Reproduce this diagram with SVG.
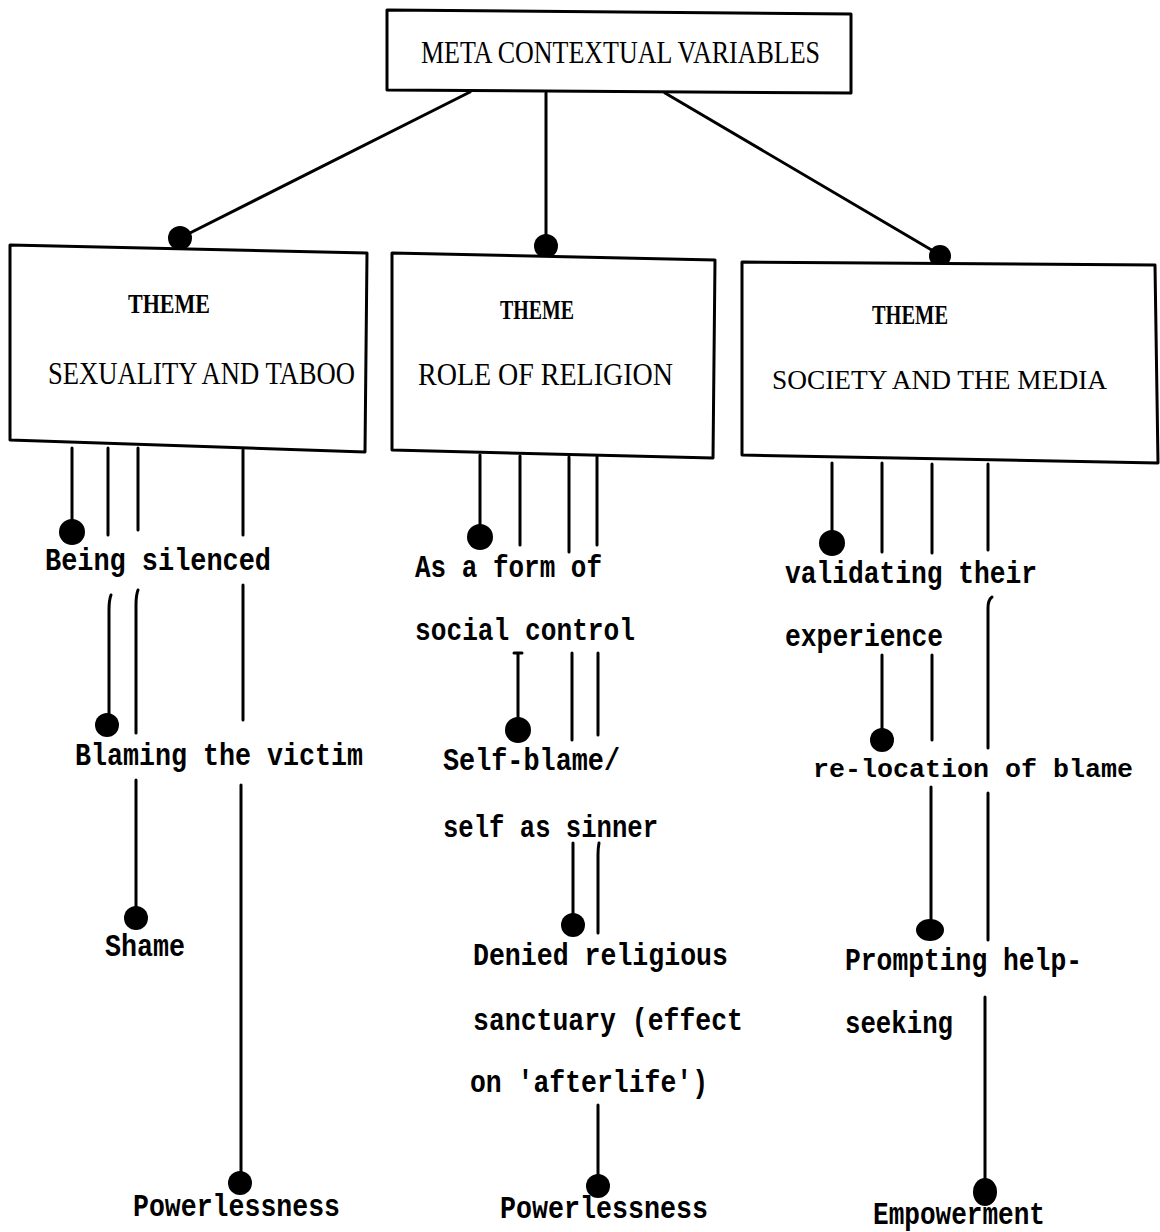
<svg xmlns="http://www.w3.org/2000/svg" width="1160" height="1232" viewBox="0 0 1160 1232">
<defs>
<style>
.box{fill:#fff;stroke:#000;stroke-width:3;stroke-linejoin:round}
.ln{fill:none;stroke:#000;stroke-width:3;stroke-linecap:round}
.dot{fill:#000}
.title{font-family:"Liberation Serif","DejaVu Serif",serif;font-size:32px;fill:#000}
.theme{font-family:"Liberation Serif","DejaVu Serif",serif;font-weight:bold;font-size:27px;fill:#000}
.lbl{font-family:"Liberation Mono","DejaVu Sans Mono",monospace;font-weight:bold;font-size:31px;fill:#000}
</style>
</defs>
<rect width="1160" height="1232" fill="#fff"/>

<g id="connectors">
<path class="ln" d="M470,92 L182,237"/>
<path class="ln" d="M546,93 V240"/>
<path class="ln" d="M665,93 L935,252"/>
<circle class="dot" cx="180" cy="238" r="12"/>
<circle class="dot" cx="546" cy="246" r="12"/>
<circle class="dot" cx="940" cy="256" r="11"/>

<path class="ln" d="M72,448 V522"/>
<circle class="dot" cx="72" cy="532" r="13"/>
<path class="ln" d="M108,448 V535"/>
<path class="ln" d="M138,448 V530"/>
<path class="ln" d="M243,450 V535"/>
<path class="ln" d="M111,595 Q109,600 109,610 V715"/>
<circle class="dot" cx="107" cy="725" r="12"/>
<path class="ln" d="M138,590 Q136,595 136,605 V733"/>
<path class="ln" d="M243,585 V720"/>
<path class="ln" d="M136,780 V910"/>
<circle class="dot" cx="136" cy="918" r="12"/>
<path class="ln" d="M241,785 V1175"/>
<circle class="dot" cx="240" cy="1183" r="12"/>

<path class="ln" d="M480,455 V530"/>
<circle class="dot" cx="480" cy="537" r="13"/>
<path class="ln" d="M520,456 V545"/>
<path class="ln" d="M569,457 V552"/>
<path class="ln" d="M597,457 V545"/>
<path class="ln" d="M514,653 H522 M518,653 V722"/>
<circle class="dot" cx="518" cy="730" r="13"/>
<path class="ln" d="M572,653 V740"/>
<path class="ln" d="M598,653 V735"/>
<path class="ln" d="M573,843 V917"/>
<circle class="dot" cx="573" cy="925" r="12"/>
<path class="ln" d="M599,843 Q598,848 598,855 V933"/>
<path class="ln" d="M598,1105 V1178"/>
<circle class="dot" cx="598" cy="1186" r="12"/>

<path class="ln" d="M832,463 V535"/>
<circle class="dot" cx="832" cy="543" r="13"/>
<path class="ln" d="M882,463 V552"/>
<path class="ln" d="M932,464 V553"/>
<path class="ln" d="M988,464 V550"/>
<path class="ln" d="M992,597 Q988,600 988,608 V748"/>
<path class="ln" d="M882,655 V732"/>
<circle class="dot" cx="882" cy="740" r="12"/>
<path class="ln" d="M932,655 V740"/>
<path class="ln" d="M931,787 V922"/>
<ellipse class="dot" cx="930" cy="930" rx="14" ry="11"/>
<path class="ln" d="M988,793 V940"/>
<path class="ln" d="M985,997 V1182"/>
<ellipse class="dot" cx="985" cy="1192" rx="12" ry="14"/>
</g>

<g id="node-meta">
<polygon class="box" points="387,10 851,14 851,93 387,90"/>
<text class="title" x="421" y="63" textLength="399" lengthAdjust="spacingAndGlyphs">META CONTEXTUAL VARIABLES</text>
</g>

<g id="node-theme-sexuality">
<polygon class="box" points="10,245 367,253 365,452 10,440"/>
<text class="theme" x="128" y="313" textLength="82" lengthAdjust="spacingAndGlyphs">THEME</text>
<text class="title" x="48" y="384" textLength="307" lengthAdjust="spacingAndGlyphs">SEXUALITY AND TABOO</text>
</g>

<g id="node-theme-religion">
<polygon class="box" points="392,253 715,260 713,458 392,450"/>
<text class="theme" x="500" y="319" textLength="74" lengthAdjust="spacingAndGlyphs">THEME</text>
<text class="title" x="418" y="385" textLength="255" lengthAdjust="spacingAndGlyphs">ROLE OF RELIGION</text>
</g>

<g id="node-theme-society">
<polygon class="box" points="742,262 1155,265 1158,463 742,455"/>
<text class="theme" x="872" y="324" textLength="76" lengthAdjust="spacingAndGlyphs">THEME</text>
<text class="title" x="772" y="389" style="font-size:28px" textLength="335" lengthAdjust="spacingAndGlyphs">SOCIETY AND THE MEDIA</text>
</g>

<g id="node-being-silenced"><text class="lbl" x="45" y="570" textLength="226" lengthAdjust="spacingAndGlyphs">Being silenced</text></g>
<g id="node-blaming-victim"><text class="lbl" x="75" y="765" textLength="288" lengthAdjust="spacingAndGlyphs">Blaming the victim</text></g>
<g id="node-shame"><text class="lbl" x="105" y="956" textLength="80" lengthAdjust="spacingAndGlyphs">Shame</text></g>
<g id="node-powerlessness-1"><text class="lbl" x="133" y="1216" textLength="207" lengthAdjust="spacingAndGlyphs">Powerlessness</text></g>

<g id="node-social-control">
<text class="lbl" x="415" y="577" textLength="187" lengthAdjust="spacingAndGlyphs">As a form of</text>
<text class="lbl" x="415" y="640" textLength="220" lengthAdjust="spacingAndGlyphs">social control</text>
</g>
<g id="node-self-blame">
<text class="lbl" x="443" y="770" textLength="177" lengthAdjust="spacingAndGlyphs">Self-blame/</text>
<text class="lbl" x="443" y="837" textLength="215" lengthAdjust="spacingAndGlyphs">self as sinner</text>
</g>
<g id="node-denied-sanctuary">
<text class="lbl" x="473" y="965" textLength="255" lengthAdjust="spacingAndGlyphs">Denied religious</text>
<text class="lbl" x="473" y="1030" textLength="270" lengthAdjust="spacingAndGlyphs">sanctuary (effect</text>
<text class="lbl" x="470" y="1092" textLength="238" lengthAdjust="spacingAndGlyphs">on 'afterlife')</text>
</g>
<g id="node-powerlessness-2"><text class="lbl" x="500" y="1218" textLength="208" lengthAdjust="spacingAndGlyphs">Powerlessness</text></g>

<g id="node-validating">
<text class="lbl" x="785" y="583" textLength="252" lengthAdjust="spacingAndGlyphs">validating their</text>
<text class="lbl" x="785" y="646" textLength="158" lengthAdjust="spacingAndGlyphs">experience</text>
</g>
<g id="node-relocation"><text class="lbl" x="813" y="777" style="font-size:26px" textLength="320" lengthAdjust="spacingAndGlyphs">re-location of blame</text></g>
<g id="node-prompting">
<text class="lbl" x="845" y="970" textLength="237" lengthAdjust="spacingAndGlyphs">Prompting help-</text>
<text class="lbl" x="845" y="1033" textLength="108" lengthAdjust="spacingAndGlyphs">seeking</text>
</g>
<g id="node-empowerment"><text class="lbl" x="873" y="1224" textLength="172" lengthAdjust="spacingAndGlyphs">Empowerment</text></g>
</svg>
